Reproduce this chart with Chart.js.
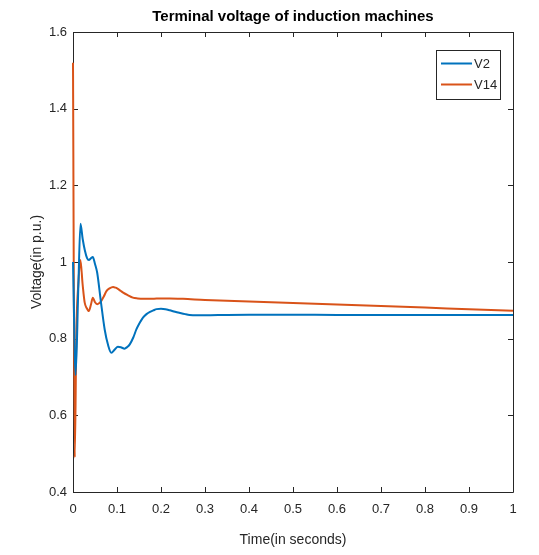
<!DOCTYPE html>
<html>
<head>
<meta charset="utf-8">
<script src="https://cdn.jsdelivr.net/npm/chart.js@4.4.1/dist/chart.umd.min.js"></script>
<style>
  html, body { margin: 0; padding: 0; background: #fff; }
  #wrap { width: 539px; height: 555px; }
</style>
</head>
<body>
<div id="wrap"><canvas id="c" width="539" height="555"></canvas></div>
<script>
// Time samples (s) and terminal voltages (p.u.)
const timeV2 = [0, 0.006, 0.012, 0.017, 0.022, 0.027, 0.032, 0.036, 0.041, 0.045, 0.050, 0.055, 0.063, 0.072, 0.080, 0.087, 0.095, 0.102, 0.110, 0.117, 0.123, 0.129, 0.137, 0.144, 0.152, 0.159, 0.167, 0.175, 0.183, 0.19, 0.20, 0.21, 0.22, 0.232, 0.243, 0.255, 0.265, 0.28, 0.30, 0.35, 0.40, 0.50, 0.60, 0.70, 0.80, 0.90, 1.0];
const voltV2 = [1.0, 0.705, 0.93, 1.10, 1.06, 1.03, 1.01, 1.005, 1.01, 1.013, 0.995, 0.972, 0.90, 0.824, 0.782, 0.763, 0.772, 0.779, 0.777, 0.774, 0.778, 0.785, 0.803, 0.824, 0.842, 0.855, 0.864, 0.870, 0.874, 0.877, 0.878, 0.877, 0.874, 0.870, 0.867, 0.864, 0.862, 0.861, 0.861, 0.862, 0.8625, 0.8625, 0.862, 0.862, 0.862, 0.862, 0.862];

const timeV14 = [0, 0.004, 0.0077, 0.0125, 0.0168, 0.022, 0.0266, 0.031, 0.036, 0.041, 0.045, 0.050, 0.055, 0.060, 0.064, 0.070, 0.076, 0.083, 0.091, 0.097, 0.102, 0.108, 0.114, 0.125, 0.136, 0.147, 0.159, 0.18, 0.20, 0.22, 0.25, 0.30, 0.40, 0.50, 0.60, 0.70, 0.80, 0.90, 1.0];
const voltV14 = [1.52, 0.49, 0.82, 0.95, 1.005, 0.94, 0.894, 0.88, 0.872, 0.89, 0.907, 0.895, 0.89, 0.893, 0.898, 0.91, 0.924, 0.931, 0.935, 0.933, 0.93, 0.925, 0.920, 0.913, 0.907, 0.905, 0.904, 0.904, 0.905, 0.905, 0.904, 0.901, 0.897, 0.893, 0.889, 0.885, 0.881, 0.877, 0.873];

const xTicks = [0, 0.1, 0.2, 0.3, 0.4, 0.5, 0.6, 0.7, 0.8, 0.9, 1];
const yTicks = [0.4, 0.6, 0.8, 1, 1.2, 1.4, 1.6];

const TITLE = 'Terminal voltage of induction machines';
const AXIS = '#262626';
const FONT = "'Liberation Sans', Arial, sans-serif";

const toPoints = (xs, ys) => xs.map((x, i) => ({ x: x, y: ys[i] }));
const tickText = v => String(Math.round(v * 100) / 100);

// Axes box with inward tick marks on all four sides
const boxTicks = {
  id: 'boxTicks',
  beforeDatasetsDraw(chart) {
    const { ctx, chartArea: a, scales: { x, y } } = chart;
    const len = 5;
    ctx.save();
    ctx.strokeStyle = AXIS;
    ctx.lineWidth = 1;
    ctx.beginPath();
    ctx.rect(Math.round(a.left) + 0.5, Math.round(a.top) + 0.5, Math.round(a.right - a.left), Math.round(a.bottom - a.top));
    xTicks.forEach(v => {
      const px = Math.round(x.getPixelForValue(v)) + 0.5;
      ctx.moveTo(px, a.bottom); ctx.lineTo(px, a.bottom - len);
      ctx.moveTo(px, a.top); ctx.lineTo(px, a.top + len);
    });
    yTicks.forEach(v => {
      const py = Math.round(y.getPixelForValue(v)) + 0.5;
      ctx.moveTo(a.left, py); ctx.lineTo(a.left + len, py);
      ctx.moveTo(a.right, py); ctx.lineTo(a.right - len, py);
    });
    ctx.stroke();
    ctx.restore();
  }
};

// Title centred over the plot area
const plotTitle = {
  id: 'plotTitle',
  afterDraw(chart) {
    const { ctx, chartArea: a } = chart;
    ctx.save();
    ctx.font = 'bold 15px ' + FONT;
    ctx.fillStyle = '#000';
    ctx.textAlign = 'center';
    ctx.textBaseline = 'middle';
    ctx.fillText(TITLE, (a.left + a.right) / 2, a.top - 15);
    ctx.restore();
  }
};

// Boxed legend in the upper-right corner of the plot
const boxLegend = {
  id: 'boxLegend',
  afterDraw(chart) {
    const { ctx, chartArea: a } = chart;
    const bx = a.right - 77, by = a.top + 18, bw = 64, bh = 49;
    ctx.save();
    ctx.fillStyle = '#fff';
    ctx.fillRect(bx, by, bw, bh);
    ctx.strokeStyle = AXIS;
    ctx.lineWidth = 1;
    ctx.strokeRect(bx + 0.5, by + 0.5, bw, bh);
    ctx.font = '13px ' + FONT;
    ctx.textBaseline = 'middle';
    chart.data.datasets.forEach((ds, i) => {
      const ly = by + 13.5 + i * 21;
      ctx.strokeStyle = ds.borderColor;
      ctx.lineWidth = 2;
      ctx.beginPath();
      ctx.moveTo(bx + 5, ly); ctx.lineTo(bx + 36, ly);
      ctx.stroke();
      ctx.fillStyle = AXIS;
      ctx.fillText(ds.label, bx + 38, ly + 1);
    });
    ctx.restore();
  }
};

new Chart(document.getElementById('c'), {
  type: 'line',
  data: {
    datasets: [
      { label: 'V2', data: toPoints(timeV2, voltV2), borderColor: '#0072BD', borderWidth: 2, pointRadius: 0, cubicInterpolationMode: 'monotone', fill: false, clip: 3 },
      { label: 'V14', data: toPoints(timeV14, voltV14), borderColor: '#D95319', borderWidth: 2, pointRadius: 0, cubicInterpolationMode: 'monotone', fill: false, clip: 3 }
    ]
  },
  options: {
    responsive: false,
    animation: false,
    devicePixelRatio: 1,
    layout: { padding: { left: 0, right: 26, top: 32, bottom: 0 } },
    plugins: {
      legend: { display: false },
      tooltip: { enabled: false },
      title: { display: false }
    },
    scales: {
      x: {
        type: 'linear',
        min: 0, max: 1,
        afterFit(s) { s.height = 63; },
        afterBuildTicks(s) { s.ticks = xTicks.map(v => ({ value: v })); },
        grid: { display: false, drawTicks: false },
        border: { display: false },
        ticks: { color: AXIS, font: { family: FONT, size: 13 }, padding: 10, maxRotation: 0, callback: v => tickText(v) },
        title: { display: true, text: 'Time(in seconds)', color: AXIS, font: { family: FONT, size: 14 }, padding: { top: 0, bottom: 6 } }
      },
      y: {
        type: 'linear',
        min: 0.4, max: 1.6,
        afterFit(s) { s.width = 73; },
        afterBuildTicks(s) { s.ticks = yTicks.map(v => ({ value: v })); },
        grid: { display: false, drawTicks: false },
        border: { display: false },
        ticks: { color: AXIS, font: { family: FONT, size: 13 }, padding: 6, callback: v => tickText(v) },
        title: { display: true, text: 'Voltage(in p.u.)', color: AXIS, font: { family: FONT, size: 14 }, padding: { top: 29, bottom: 0 } }
      }
    }
  },
  plugins: [boxTicks, plotTitle, boxLegend]
});
</script>
</body>
</html>
